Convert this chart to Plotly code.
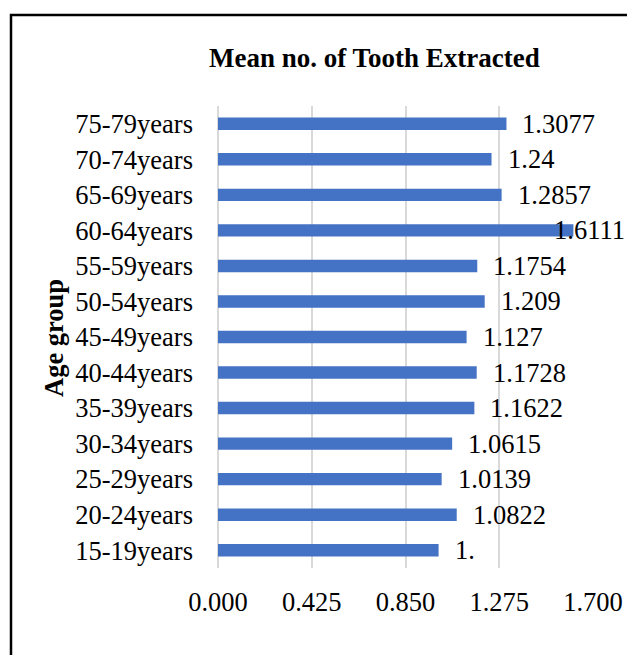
import plotly.graph_objects as go

# Mean number of teeth extracted per age group
age_groups = [
    "15-19years", "20-24years", "25-29years", "30-34years", "35-39years",
    "40-44years", "45-49years", "50-54years", "55-59years", "60-64years",
    "65-69years", "70-74years", "75-79years",
]
mean_extracted = [
    1.0, 1.0822, 1.0139, 1.0615, 1.1622,
    1.1728, 1.127, 1.209, 1.1754, 1.6111,
    1.2857, 1.24, 1.3077,
]
x_ticks = [0.0, 0.425, 0.85, 1.275, 1.7]
x_tick_text = ["0.000", "0.425", "0.850", "1.275", "1.700"]

BAR_COLOR = "#4472C4"
GRID_COLOR = "#D9D9D9"
FONT = "Liberation Serif, Times New Roman, serif"
FS = 26.5

W, H = 627, 655
L, R, T, B = 218, 34, 106, 87
plot_w = W - L - R
plot_h = H - T - B


def general_fmt(v):
    # spreadsheet "General"-style number text
    return f"{v:.4f}".rstrip("0")


fig = go.Figure(
    go.Bar(
        x=mean_extracted,
        y=age_groups,
        orientation="h",
        marker=dict(color=BAR_COLOR, line=dict(width=0)),
        hoverinfo="x+y",
    )
)

annotations = []
x_max = x_ticks[-1]
for v, g in zip(mean_extracted, age_groups):
    text = general_fmt(v)
    # labels that would run off the page are pulled back to its right edge
    if L + v / x_max * plot_w + 15 + 72 > W:
        annotations.append(dict(
            x=(W - L) / plot_w, xref="paper", y=g, yref="y",
            text=text, showarrow=False, xanchor="right", yanchor="middle",
            font=dict(family=FONT, size=FS, color="#000000"),
        ))
    else:
        annotations.append(dict(
            x=v, xref="x", y=g, yref="y", xshift=14,
            text=text, showarrow=False, xanchor="left", yanchor="middle",
            font=dict(family=FONT, size=FS, color="#000000"),
        ))

# chart title
annotations.append(dict(
    x=(374 - L) / plot_w, xref="paper", y=(H - B - 58) / plot_h, yref="paper",
    text="<b>Mean no. of Tooth Extracted</b>", showarrow=False,
    xanchor="center", yanchor="middle",
    font=dict(family=FONT, size=27, color="#000000"),
))
# vertical axis title
annotations.append(dict(
    x=(54 - L) / plot_w, xref="paper", y=(H - B - 338) / plot_h, yref="paper",
    text="<b>Age group</b>", showarrow=False, textangle=-90,
    xanchor="center", yanchor="middle",
    font=dict(family=FONT, size=FS, color="#000000"),
))

fig.update_layout(
    width=W, height=H,
    margin=dict(l=L, r=R, t=T, b=B, autoexpand=False),
    paper_bgcolor="#FFFFFF", plot_bgcolor="#FFFFFF",
    bargap=0.65,
    showlegend=False,
    font=dict(family=FONT, size=FS, color="#000000"),
    annotations=annotations,
    shapes=[dict(
        type="rect", xref="paper", yref="paper",
        x0=(11 - L) / plot_w, x1=(720 - L) / plot_w,
        y0=(H - B - 720) / plot_h, y1=(H - B - 15) / plot_h,
        line=dict(color="#000000", width=2.5), fillcolor="rgba(0,0,0,0)",
        layer="above",
    )],
    xaxis=dict(
        range=[0, x_max], tickvals=x_ticks, ticktext=x_tick_text,
        showgrid=True, gridcolor=GRID_COLOR, gridwidth=2,
        zeroline=True, zerolinecolor=GRID_COLOR, zerolinewidth=2,
        showline=False, ticks="", ticklabelstandoff=15,
        tickfont=dict(family=FONT, size=FS, color="#000000"),
        fixedrange=True,
    ),
    yaxis=dict(
        categoryorder="array", categoryarray=age_groups,
        showgrid=False, zeroline=False, showline=False, ticks="",
        ticklabelstandoff=24,
        tickfont=dict(family=FONT, size=FS, color="#000000"),
        fixedrange=True,
    ),
)

fig.write_html("out.html")
